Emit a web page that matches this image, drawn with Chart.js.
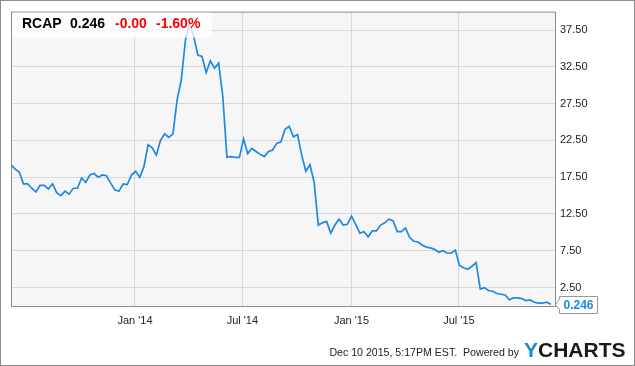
<!DOCTYPE html>
<html>
<head>
<meta charset="utf-8">
<script src="https://cdn.jsdelivr.net/npm/chart.js@4.4.1/dist/chart.umd.min.js"></script>
<style>
  html, body { margin: 0; padding: 0; background: #fff; }
  #wrap { width: 635px; height: 366px; }
</style>
</head>
<body>
<div id="wrap"><canvas id="chart" width="635" height="366"></canvas></div>
<script>
// --- data (weekly closes) ---
const firstWeek = '2013-06-06';
const axisEnd = '2015-12-10';
const prices = [
  19.2, 18.6, 18.2, 16.6, 16.6, 16.0, 15.5, 16.4, 16.4, 15.9,
  16.6, 15.4, 15.0, 15.6, 15.2, 16.0, 16.0, 17.4, 16.8, 17.8,
  18.0, 17.5, 17.8, 17.7, 16.7, 15.8, 15.6, 16.6, 16.5, 17.8,
  18.3, 17.5, 18.9, 21.9, 21.5, 20.5, 22.5, 23.4, 22.9, 23.4,
  28.0, 30.7, 36.1, 38.5, 36.6, 34.1, 33.9, 31.7, 33.3, 32.3,
  33.0, 28.5, 20.2, 20.3, 20.2, 20.2, 22.7, 20.7, 21.4, 21.0,
  20.6, 20.3, 21.0, 21.2, 22.1, 22.3, 24.0, 24.4, 23.0, 23.3,
  20.5, 18.3, 19.2, 16.8, 11.0, 11.3, 11.5, 9.9, 11.0, 11.8,
  11.0, 11.1, 12.2, 11.1, 9.9, 10.1, 9.4, 10.2, 10.2, 11.0,
  11.3, 11.8, 11.6, 10.1, 10.1, 10.6, 9.3, 8.8, 8.7, 8.3,
  8.0, 7.9, 7.7, 7.3, 7.5, 7.2, 7.2, 7.6, 5.5, 5.2,
  5.0, 5.4, 5.9, 2.3, 2.5, 2.1, 2.0, 1.7, 1.6, 1.5,
  0.84, 1.1, 1.1, 1.0, 0.74, 0.84, 0.51, 0.38, 0.38, 0.51,
  0.246
];
const tickDates = ['2014-01-01', '2014-07-01', '2015-01-01', '2015-07-01'];
const tickLabels = ["Jan '14", "Jul '14", "Jan '15", "Jul '15"];
const yTicks = [2.5, 7.5, 12.5, 17.5, 22.5, 27.5, 32.5, 37.5];

const ticker = 'RCAP';
const lastPrice = '0.246';
const change = '-0.00';
const changePct = '-1.60%';
const stamp = 'Dec 10 2015, 5:17PM EST.  Powered by';

// days relative to Jan 1 2014 (linear x axis, no date adapter needed)
const dayOf = s => (Date.parse(s) - Date.parse('2014-01-01')) / 864e5;
const startDay = dayOf(firstWeek);
const points = prices.map((v, i) => ({ x: startDay + 7 * i, y: v }));
const tickDays = tickDates.map(dayOf);

const FONT = '"Liberation Sans", Arial, sans-serif';
const LINE = '#1e88e5';

const decor = {
    id: 'decor',
    beforeDraw(chart) {
        const { ctx, chartArea: a } = chart;
        ctx.save();
        ctx.fillStyle = '#fff';
        ctx.fillRect(0, 0, chart.width, chart.height);
        ctx.fillStyle = '#f6f6f6';
        ctx.fillRect(a.left, a.top, a.right - a.left, a.bottom - a.top);
        ctx.restore();
    },
    afterDraw(chart) {
        const { ctx, chartArea: a } = chart;
        ctx.save();

        // plot frame
        ctx.strokeStyle = '#8c8c8c';
        ctx.lineWidth = 1;
        ctx.strokeRect(a.left + 0.5, a.top + 0.5, a.right - a.left, a.bottom - a.top);

        // title box
        ctx.fillStyle = 'rgba(255,255,255,0.75)';
        ctx.fillRect(a.left + 1, a.top + 1, 200, 25);
        ctx.font = 'bold 14px ' + FONT;
        ctx.textBaseline = 'middle';
        ctx.fillStyle = '#000';
        ctx.fillText(ticker, 22, 24);
        ctx.fillText(lastPrice, 70, 24);
        ctx.fillStyle = '#ff0000';
        ctx.fillText(change, 115, 24);
        ctx.fillText(changePct, 156, 24);

        // last value tag
        const meta = chart.getDatasetMeta(0);
        const last = meta.data[meta.data.length - 1];
        const yc = Math.round(last.y) + 0.5;
        const x0 = a.right + 0.5, x1 = x0 + 4, x2 = x0 + 42;
        ctx.beginPath();
        ctx.moveTo(x0, yc);
        ctx.lineTo(x1, yc - 5);
        ctx.lineTo(x1, yc - 8);
        ctx.lineTo(x2, yc - 8);
        ctx.lineTo(x2, yc + 9);
        ctx.lineTo(x1, yc + 9);
        ctx.lineTo(x1, yc + 5);
        ctx.closePath();
        ctx.fillStyle = '#fff';
        ctx.fill();
        ctx.strokeStyle = '#999';
        ctx.stroke();
        ctx.fillStyle = LINE;
        ctx.font = 'bold 12px ' + FONT;
        ctx.fillText(lastPrice, x1 + 4, yc + 1);

        // footer
        ctx.fillStyle = '#222';
        ctx.font = '10.6px ' + FONT;
        ctx.textAlign = 'right';
        ctx.fillText(stamp, 519, 353);
        ctx.textAlign = 'left';
        ctx.font = 'bold 21px ' + FONT;
        ctx.fillStyle = '#1a8bd8';
        ctx.fillText('Y', 524, 351);
        const yw = ctx.measureText('Y').width;
        ctx.fillStyle = '#1a1a1a';
        ctx.fillText('CHARTS', 524 + yw, 351);

        // outer border
        ctx.strokeStyle = '#8c8c8c';
        ctx.strokeRect(0.5, 0.5, chart.width - 1, chart.height - 1);
        ctx.restore();
    }
};

new Chart(document.getElementById('chart'), {
    type: 'line',
    data: {
        datasets: [{
            data: points,
            borderColor: LINE,
            borderWidth: 1.7,
            pointRadius: 0,
            tension: 0,
            fill: false
        }]
    },
    options: {
        responsive: false,
        animation: false,
        devicePixelRatio: 1,
        layout: { padding: { left: 11, top: 10, right: 0, bottom: 0 } },
        plugins: { legend: { display: false }, tooltip: { enabled: false } },
        scales: {
            x: {
                type: 'linear',
                position: 'bottom',
                min: startDay,
                max: dayOf(axisEnd),
                afterBuildTicks: s => { s.ticks = tickDays.map(v => ({ value: v })); },
                afterFit: s => { s.height = 60; },
                grid: { color: '#d9d9d9', drawTicks: false },
                border: { display: false },
                ticks: {
                    padding: 8,
                    color: '#222',
                    font: { size: 11, family: FONT },
                    maxRotation: 0,
                    autoSkip: false,
                    callback: v => tickLabels[tickDays.indexOf(v)]
                }
            },
            y: {
                position: 'right',
                min: 0,
                max: 40,
                afterBuildTicks: s => { s.ticks = yTicks.map(v => ({ value: v })); },
                afterFit: s => { s.width = 80; },
                grid: { color: '#d9d9d9', drawTicks: false },
                border: { display: false },
                ticks: {
                    padding: 5,
                    color: '#222',
                    font: { size: 11, family: FONT },
                    callback: v => v.toFixed(2)
                }
            }
        }
    },
    plugins: [decor]
});
</script>
</body>
</html>
